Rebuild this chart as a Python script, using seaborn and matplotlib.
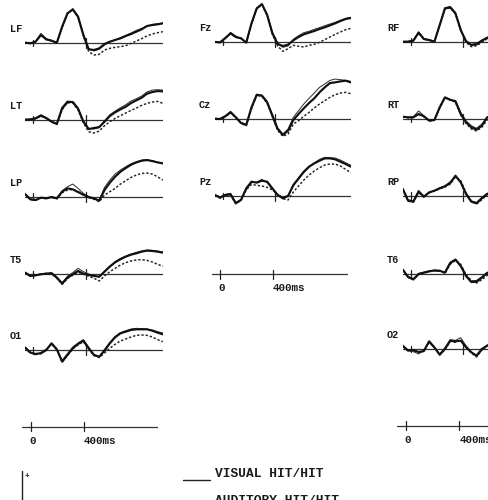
import matplotlib
matplotlib.use("Agg")
import matplotlib.pyplot as plt
from matplotlib.lines import Line2D
import seaborn as sns
import pandas as pd

# ---------------- data (amplitude, microvolts; time, ms) ----------------
times = [-60, -20, 20, 60, 100, 140, 180, 220, 260, 300, 340, 380, 420, 460,
         500, 540, 580, 620, 660, 700, 740, 780, 820, 860, 900, 940, 980]
times_right = [-60, -20, 20, 60, 100, 140, 180, 220, 260, 300, 340, 380, 420,
               460, 500, 540, 580, 620]
conditions = ["visual", "auditory", "other"]

LF_vis = [0.1, -0.1, 0.4, 2.4, 1.1, 0.7, 0.1, 4.9, 8.9, 10.1, 7.9, 2.4, -1.9, -2.1, -1.6, -0.3, 0.4, 0.9, 1.4, 2.1, 2.7, 3.4, 4.1, 5.1, 5.4, 5.6, 5.9]
LF_aud = [0.2, -0.2, 0.6, 2.9, 1.3, 0.8, 0.0, 4.6, 8.7, 10.3, 8.1, 2.8, -1.6, -2.4, -1.9, -0.6, 0.3, 1.0, 1.6, 2.3, 3.0, 3.8, 4.4, 5.0, 5.6, 5.8, 6.0]
LF_oth = [0.1, 0.0, 0.5, 2.5, 1.0, 0.6, 0.0, 4.7, 8.8, 10.0, 7.7, 2.2, -2.6, -3.6, -3.4, -2.1, -1.6, -1.3, -1.1, -0.8, -0.1, 0.6, 1.3, 2.1, 2.7, 3.1, 3.4]

LT_vis = [0.0, 0.1, 0.4, 1.2, 0.5, -0.6, -1.3, 3.5, 5.4, 5.3, 3.3, -0.6, -2.8, -2.5, -2.2, -0.6, 1.1, 2.2, 3.1, 3.9, 5.0, 5.8, 6.6, 7.8, 8.3, 8.6, 8.5]
LT_aud = [0.1, 0.0, 0.6, 1.5, 0.6, -0.4, -1.1, 3.2, 5.0, 5.5, 3.6, -0.3, -2.6, -2.8, -2.4, -0.3, 1.5, 2.6, 3.6, 4.5, 5.6, 6.3, 7.1, 8.3, 8.9, 9.0, 8.9]
LT_oth = [0.0, 0.1, 0.3, 1.1, 0.4, -0.7, -1.4, 3.0, 5.1, 5.0, 3.0, -0.9, -3.6, -4.0, -3.4, -1.8, -0.6, 0.4, 1.2, 2.0, 2.8, 3.5, 4.3, 4.9, 5.3, 5.5, 4.9]

LP_vis = [0.8, -0.8, -1.0, -0.3, -0.5, -0.1, -0.5, 1.5, 2.5, 2.2, 1.4, 0.6, -0.1, -0.5, -1.2, 2.0, 4.2, 6.0, 7.5, 8.6, 9.6, 10.3, 10.8, 11.0, 10.7, 10.3, 10.0]
LP_aud = [0.9, -0.6, -1.1, -0.2, -0.6, 0.0, -0.4, 1.8, 3.0, 3.8, 2.5, 1.0, 0.0, -0.6, -1.0, 2.8, 5.0, 6.8, 8.0, 9.0, 9.9, 10.5, 11.0, 11.1, 10.8, 10.4, 10.1]
LP_oth = [0.7, -0.9, -1.0, -0.4, -0.4, -0.2, -0.6, 1.2, 2.0, 2.2, 1.5, 0.5, -0.3, -0.8, -1.5, 0.5, 1.5, 2.5, 3.8, 4.8, 5.8, 6.5, 7.0, 7.1, 6.8, 6.0, 5.0]

T5_vis = [0.5, -0.5, -0.3, 0.0, 0.2, 0.3, -1.0, -2.8, -1.0, 0.0, 1.0, 0.2, -0.2, -0.5, -0.7, 0.8, 2.3, 3.6, 4.5, 5.3, 5.9, 6.3, 6.8, 7.1, 7.0, 6.8, 6.5]
T5_aud = [0.6, -0.3, -0.4, 0.2, 0.1, 0.5, -0.8, -2.5, -0.6, 0.5, 1.8, 0.8, 0.1, -0.3, -0.9, 1.0, 2.5, 3.8, 4.8, 5.5, 6.1, 6.6, 7.0, 7.3, 7.2, 7.0, 6.7]
T5_oth = [0.4, -0.6, -0.3, 0.0, 0.3, 0.2, -1.2, -3.0, -1.3, -0.3, 0.6, 0.0, -0.6, -1.2, -2.0, -0.5, 0.8, 1.8, 2.8, 3.5, 4.0, 4.3, 4.4, 4.2, 3.7, 3.0, 2.4]

O1_vis = [0.8, -0.7, -1.1, -0.9, 0.1, 2.1, 0.3, -3.4, -1.4, 0.6, 1.9, 2.9, 0.6, -1.4, -1.9, -0.1, 2.1, 3.9, 5.1, 5.6, 6.1, 6.3, 6.3, 6.3, 5.9, 5.3, 4.8]
O1_aud = [1.0, -0.5, -1.4, -0.6, 0.3, 1.8, 0.1, -3.0, -1.0, 1.0, 2.2, 3.2, 1.0, -1.2, -2.1, 0.3, 2.4, 4.2, 5.3, 5.9, 6.4, 6.6, 6.5, 6.4, 6.1, 5.6, 5.2]
O1_oth = [0.7, -0.8, -1.0, -1.0, 0.0, 2.0, 0.2, -3.6, -1.6, 0.4, 1.6, 2.6, 0.3, -1.6, -2.2, -0.8, 0.6, 1.8, 2.8, 3.4, 4.0, 4.5, 4.6, 4.5, 4.0, 3.2, 2.6]

Fz_vis = [0.0, -0.1, 1.2, 2.6, 1.5, 1.1, -0.2, 5.6, 10.1, 11.4, 8.1, 2.6, -0.6, -1.2, -0.8, 0.5, 1.5, 2.3, 2.8, 3.3, 3.9, 4.4, 5.0, 5.6, 6.3, 6.9, 7.2]
Fz_aud = [0.1, 0.0, 1.0, 2.9, 1.8, 1.0, -0.1, 5.2, 9.9, 11.2, 8.4, 3.0, -0.3, -1.6, -1.2, 0.8, 1.9, 2.8, 3.2, 3.8, 4.3, 4.9, 5.4, 5.9, 6.5, 7.1, 7.4]
Fz_oth = [0.0, -0.2, 1.1, 2.5, 1.4, 1.2, -0.2, 5.4, 10.0, 11.3, 7.9, 2.3, -1.2, -2.8, -2.0, -1.0, -1.3, -1.5, -1.0, -0.7, -0.1, 0.7, 1.5, 2.3, 3.0, 3.7, 4.1]

Cz_vis = [0.1, 0.0, 0.8, 2.0, 0.5, -1.2, -1.8, 3.5, 7.3, 7.0, 5.0, 1.0, -3.0, -4.8, -3.5, -0.3, 1.5, 3.2, 4.8, 6.2, 8.0, 9.5, 10.8, 11.0, 11.3, 11.5, 11.0]
Cz_aud = [0.2, 0.1, 1.0, 2.3, 0.7, -1.0, -1.6, 3.2, 7.0, 7.2, 5.3, 1.4, -2.6, -4.5, -3.0, 0.5, 2.5, 4.5, 6.2, 7.8, 9.5, 10.5, 11.6, 12.0, 11.8, 11.6, 11.3]
Cz_oth = [0.0, -0.1, 0.7, 1.9, 0.4, -1.3, -2.0, 3.0, 7.1, 6.8, 4.7, 0.7, -3.4, -5.2, -4.5, -1.5, -0.5, 0.8, 2.0, 3.3, 4.5, 5.5, 6.5, 7.3, 7.8, 8.0, 7.6]

Pz_vis = [0.3, -0.5, 0.3, 0.5, -2.2, -1.2, 2.3, 4.3, 4.0, 4.6, 4.3, 2.3, 0.3, -0.7, 0.0, 3.3, 5.3, 7.3, 8.8, 9.8, 10.6, 11.3, 11.3, 11.0, 10.3, 9.6, 8.8]
Pz_aud = [0.4, -0.3, 0.5, 0.8, -1.9, -1.0, 2.0, 4.0, 4.2, 5.0, 4.0, 2.0, 0.5, -0.4, 0.2, 3.0, 5.0, 7.0, 8.6, 9.9, 11.0, 11.6, 11.5, 11.4, 10.8, 10.0, 9.2]
Pz_oth = [0.2, -0.6, 0.2, 0.4, -2.3, -1.3, 1.8, 3.5, 3.2, 3.0, 2.6, 1.8, 0.5, -0.8, -1.2, 1.2, 3.0, 4.8, 6.3, 7.5, 8.5, 9.3, 9.6, 9.6, 9.0, 8.0, 7.0]

RF_vis = [0.0, 0.0, 0.3, 2.7, 0.8, 0.5, 0.0, 5.0, 10.0, 10.3, 8.5, 3.5, 0.2, -1.0, -0.8, 0.3, 1.2, 1.6]
RF_aud = [0.1, 0.1, 0.5, 3.0, 1.0, 0.6, 0.1, 4.8, 10.2, 10.6, 8.8, 3.8, 0.0, -0.8, -0.5, 0.5, 1.0, 1.4]
RF_oth = [0.0, -0.1, 0.3, 2.6, 0.8, 0.4, 0.0, 4.9, 9.8, 10.2, 8.3, 3.3, -0.2, -1.5, -1.2, -0.2, 0.8, 1.0]

RT_vis = [0.7, 0.5, 0.5, 1.5, 0.8, -0.5, -0.3, 3.5, 6.5, 5.8, 5.3, 1.5, -1.0, -2.5, -3.2, -2.0, 0.5, 1.0]
RT_aud = [0.6, 0.4, 0.7, 2.4, 1.0, -0.3, -0.2, 3.2, 6.3, 5.6, 5.6, 2.0, -0.5, -2.0, -2.8, -1.5, 0.3, 0.9]
RT_oth = [0.7, 0.4, 0.5, 1.4, 0.7, -0.6, -0.4, 3.3, 6.4, 5.7, 5.0, 1.2, -1.3, -3.0, -3.6, -2.5, -0.3, 0.5]

RP_vis = [2.0, -1.5, -1.8, 1.2, -0.3, 1.0, 1.5, 2.2, 2.8, 3.8, 6.0, 4.0, 0.5, -1.8, -2.3, -0.8, 0.5, 1.0]
RP_aud = [2.2, -1.2, -1.5, 1.6, -0.1, 0.8, 1.6, 2.4, 3.0, 4.2, 5.8, 4.3, 0.8, -1.5, -2.0, -0.5, 0.7, 1.2]
RP_oth = [1.8, -1.6, -1.9, 1.0, -0.4, 0.9, 1.4, 2.1, 2.6, 3.5, 5.6, 4.5, 0.9, -1.6, -2.5, -1.2, 0.3, 1.0]

T6_vis = [1.2, -1.0, -1.7, -0.1, 0.3, 0.7, 1.0, 0.9, 0.3, 3.2, 4.2, 2.3, -0.7, -2.5, -2.4, -1.2, 0.2, 0.6]
T6_aud = [1.4, -0.8, -1.5, 0.1, 0.5, 0.9, 0.8, 0.7, 0.5, 3.5, 4.4, 2.6, -0.4, -2.2, -2.0, -0.9, 0.4, 0.8]
T6_oth = [1.1, -1.1, -1.8, -0.2, 0.2, 0.6, 1.0, 0.8, 0.2, 2.8, 4.0, 2.8, -0.3, -2.0, -2.8, -1.8, -0.5, 0.3]

O2_vis = [0.9, -0.5, -0.3, -0.9, -0.6, 2.3, 0.5, -1.7, 0.0, 2.5, 2.3, 2.5, 0.5, -1.0, -2.0, 0.0, 1.0, 1.2]
O2_aud = [1.2, -0.3, -0.8, -1.5, -0.4, 2.0, 0.3, -1.5, 0.4, 2.8, 2.6, 3.4, 1.0, -0.8, -2.3, -0.4, 1.2, 1.5]
O2_oth = [0.8, -0.6, -0.5, -1.0, -0.7, 2.2, 0.4, -1.8, -0.2, 2.3, 2.0, 2.6, 0.8, -1.2, -2.4, -0.3, 0.8, 1.0]

scale_ticks = [0, 400]
scale_labels = ["0", "400ms"]
legend_labels = ["VISUAL HIT/HIT", "AUDITORY HIT/HIT"]

# ---------------- style ----------------
sns.set_style("white")
plt.rcParams["font.family"] = ["Liberation Mono", "DejaVu Sans Mono"]
FONT = dict(family=["Liberation Mono", "DejaVu Sans Mono"], weight="bold", color="#1a1a1a")

W, H = 489, 500
fig = plt.figure(figsize=(W / 100, H / 100), dpi=100)
fig.patch.set_facecolor("white")


def fx(x):
    return x / W


def fy(y):
    return 1 - y / H


def px_axes(left, top, width, height):
    return fig.add_axes([left / W, 1 - (top + height) / H, width / W, height / H])


PX_PER_UV = 3.33
YLO, YHI = -7.0, 14.0
TMIN, TMAX = -60, 980
# column: (pixel of t=0, pixels per ms, label x)
COLS = {0: (33.0, 0.1325, 10), 1: (222.7, 0.1308, 199), 2: (410.7, 0.1317, 387)}

panels = [
    ("LF", 0, 43.0, times, LF_vis, LF_aud, LF_oth),
    ("LT", 0, 119.7, times, LT_vis, LT_aud, LT_oth),
    ("LP", 0, 196.7, times, LP_vis, LP_aud, LP_oth),
    ("T5", 0, 274.3, times, T5_vis, T5_aud, T5_oth),
    ("O1", 0, 350.3, times, O1_vis, O1_aud, O1_oth),
    ("Fz", 1, 42.0, times, Fz_vis, Fz_aud, Fz_oth),
    ("Cz", 1, 119.0, times, Cz_vis, Cz_aud, Cz_oth),
    ("Pz", 1, 196.0, times, Pz_vis, Pz_aud, Pz_oth),
    ("RF", 2, 41.7, times_right, RF_vis, RF_aud, RF_oth),
    ("RT", 2, 119.0, times_right, RT_vis, RT_aud, RT_oth),
    ("RP", 2, 195.7, times_right, RP_vis, RP_aud, RP_oth),
    ("T6", 2, 273.7, times_right, T6_vis, T6_aud, T6_oth),
    ("O2", 2, 349.0, times_right, O2_vis, O2_aud, O2_oth),
]

palette = {"visual": "#111111", "auditory": "#2a2a2a", "other": "#222222"}
dashes = {"visual": "", "auditory": "", "other": (1.6, 1.3)}
sizes = {"visual": 1.55, "auditory": 0.7, "other": 1.05}

for name, col, base_y, t, vis, aud, oth in panels:
    zero, ppm, lab_x = COLS[col]
    left = zero + TMIN * ppm
    width = (TMAX - TMIN) * ppm
    top = base_y - YHI * PX_PER_UV
    height = (YHI - YLO) * PX_PER_UV
    ax = px_axes(left, top, width, height)
    n = len(t)
    df = pd.DataFrame({
        "time": list(t) * 3,
        "amp": list(vis) + list(aud) + list(oth),
        "cond": ["visual"] * n + ["auditory"] * n + ["other"] * n,
    })
    ax.axhline(0, color="#333333", lw=0.9, zorder=1)
    sns.lineplot(data=df, x="time", y="amp", hue="cond",
                 hue_order=["other", "auditory", "visual"], palette=palette,
                 style="cond", dashes=dashes, size="cond", sizes=sizes,
                 estimator=None, legend=False, ax=ax, zorder=3)
    ax.plot([scale_ticks[0]] * 2, [-1.0, 1.0], color="#222222", lw=0.9)
    ax.plot([scale_ticks[1]] * 2, [-1.5, 1.5], color="#222222", lw=0.9)
    ax.set_xlim(TMIN, TMAX)
    ax.set_ylim(YLO, YHI)
    ax.set_axis_off()
    fig.text(fx(lab_x), fy(base_y - 14), name, fontsize=7.4, va="center",
             ha="left", **FONT)

# time scale axes: (pixel of t=0, px per ms, line left px, y px)
scales = [(31.0, 0.1317, 22.0, 426.7), (220.0, 0.1317, 212.0, 274.0),
          (406.0, 0.1333, 397.0, 425.7)]
for zero, ppm, x0, yb in scales:
    tmin = (x0 - zero) / ppm
    tmax = tmin + 1033
    ax = px_axes(x0, yb - 6, (tmax - tmin) * ppm, 12)
    ax.set_xlim(tmin, tmax)
    ax.set_ylim(-1, 1)
    ax.axhline(0, color="#333333", lw=0.9)
    for tk in scale_ticks:
        ax.plot([tk, tk], [-0.75, 0.75], color="#222222", lw=0.9)
    ax.set_axis_off()
    fig.text(fx(zero + scale_ticks[0] * ppm + 2), fy(yb + 14), scale_labels[0],
             fontsize=7.8, ha="center", va="center", **FONT)
    fig.text(fx(zero + scale_ticks[1] * ppm), fy(yb + 14), scale_labels[1],
             fontsize=7.8, ha="left", va="center", **FONT)

# legend
fig.add_artist(Line2D([fx(183), fx(210)], [fy(479.5), fy(479.5)],
                      color="#222222", lw=1.0))
fig.text(fx(215), fy(474), legend_labels[0], fontsize=9.3, ha="left",
         va="center", **FONT)
fig.text(fx(215.5), fy(495.5), legend_labels[1], fontsize=9.3, ha="left",
         va="top", **FONT)

# amplitude calibration mark (cut off at bottom)
fig.add_artist(Line2D([fx(21.7), fx(21.7)], [fy(471), fy(501)],
                      color="#222222", lw=1.0))
fig.text(fx(27), fy(476.5), "+", fontsize=5.5, ha="center", va="center", **FONT)

fig.savefig("out.png", dpi=100, facecolor="white")
